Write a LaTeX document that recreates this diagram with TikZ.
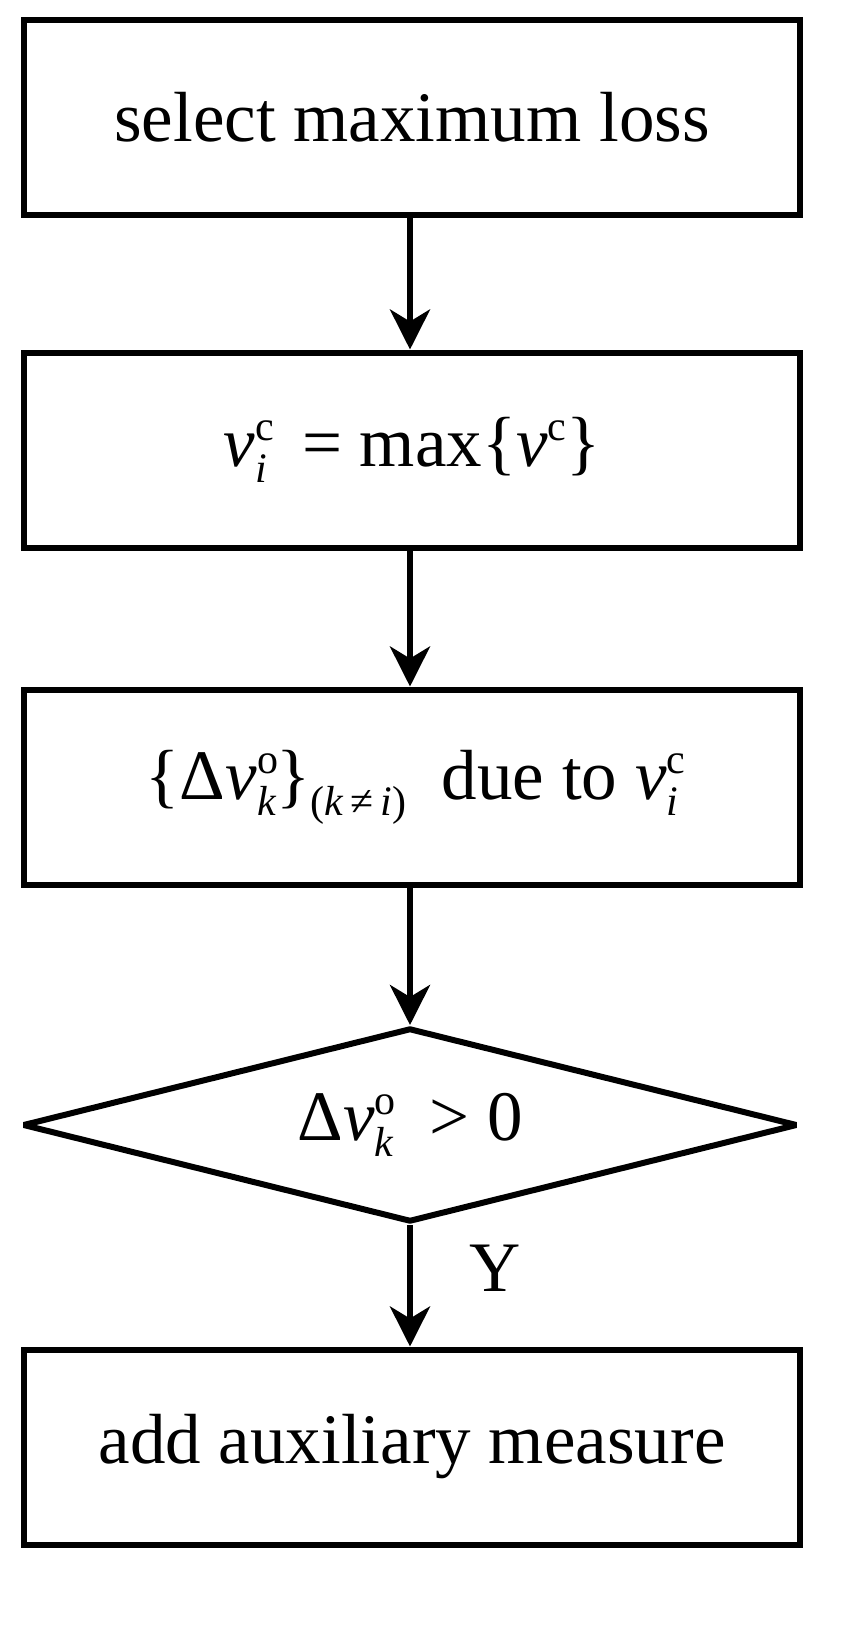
\documentclass[tikz,border=0pt]{standalone}
\usepackage{fontspec}
\setmainfont{Liberation Serif}
\usetikzlibrary{arrows.meta,shapes.geometric}
\newcommand\smf{\fontsize{42}{46}\selectfont}
\newcommand\vsc[2]{\textit{v}\rlap{\raisebox{26pt}{\smf #1}}\raisebox{-16pt}{\smf\textit{#2}}}
\begin{document}
\begin{tikzpicture}[x=1pt,y=-1pt,
  box/.style={draw,line width=6pt,minimum width=776pt,minimum height=195pt,inner sep=0pt,font=\fontsize{71}{80}\selectfont},
  arr/.style={line width=6pt,-{Stealth[length=40pt,width=40pt,inset=12pt]}}]
\useasboundingbox (0,0) rectangle (854,1636);
\node[box] (a) at (412,117) {select maximum loss};
\node[box] (b) at (412,450) {\vsc{c}{i}\ \ = max\{\textit{v}\raisebox{26pt}{\smf c}\}};
\node[box] (c) at (412,787) {\{Δ\vsc{o}{k}\}\raisebox{-16pt}{\smf(\textit{k}\,≠\,\textit{i})}\ \ due to \vsc{c}{i}};
\node[draw,line width=6pt,miter limit=1,diamond,aspect=4,minimum width=775pt,minimum height=194pt,inner sep=0pt,font=\fontsize{71}{80}\selectfont] (d) at (410,1125) {Δ\vsc{o}{k}\ \ > 0};
\node[box] (e) at (412,1447) {add auxiliary measure};
\draw[arr] (a.south -| 410,0) -- (b.north -| 410,0);
\draw[arr] (b.south -| 410,0) -- (c.north -| 410,0);
\draw[arr] (c.south -| 410,0) -- (d.north);
\draw[arr] (d.south) -- (e.north -| 410,0);
\node[font=\fontsize{71}{80}\selectfont] (y) at (495,1268) {Y};
\end{tikzpicture}
\end{document}
